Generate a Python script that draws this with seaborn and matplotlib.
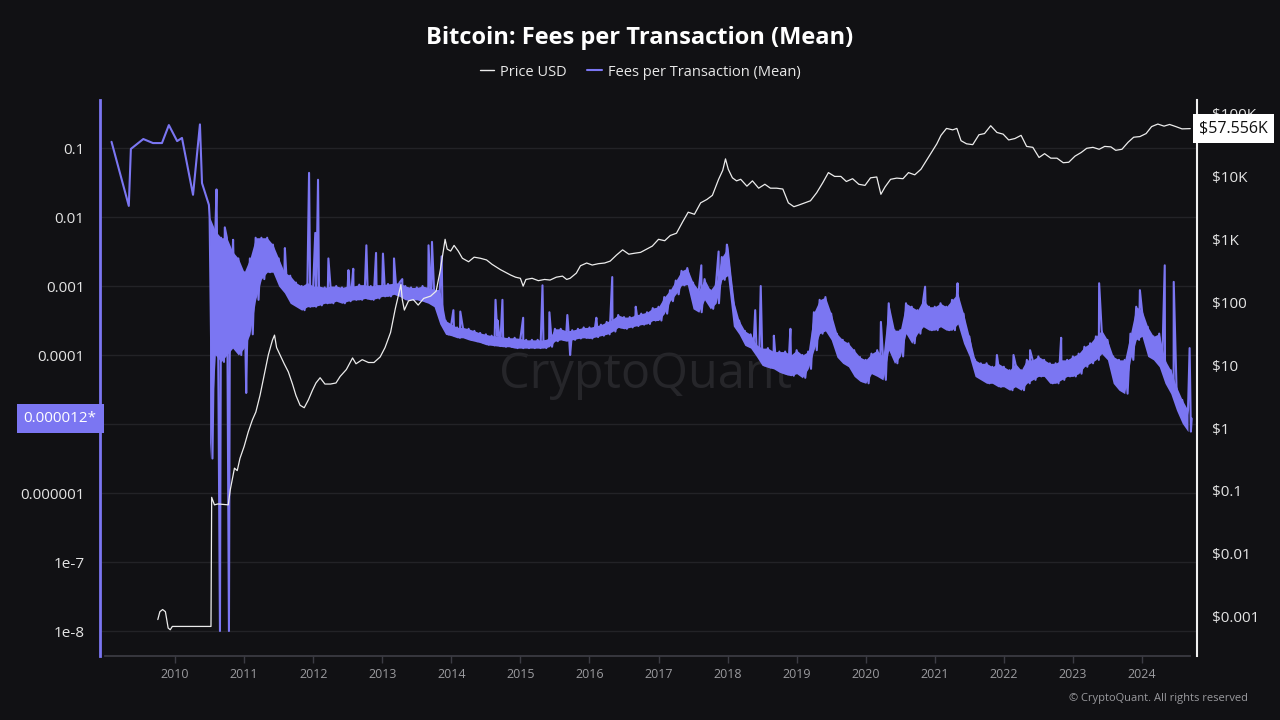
import numpy as np
import pandas as pd
import seaborn as sns
import matplotlib.pyplot as plt
import matplotlib.transforms as mtransforms
from matplotlib.lines import Line2D

BG = '#111114'
FEE_COLOR = '#7b76f2'
PRICE_COLOR = '#ececec'

# fees per transaction (BTC), sparse early points
fee_early_year = [2009.08, 2009.33, 2009.36, 2009.54, 2009.68, 2009.81, 2009.91,
                  2010.03, 2010.10, 2010.26, 2010.36, 2010.39, 2010.49]
fee_early = [0.123, 0.0145, 0.097, 0.135, 0.118, 0.118, 0.215,
             0.126, 0.14, 0.021, 0.22, 0.031, 0.015]

# monthly upper / lower edge of the fee band (log10 BTC), Jul 2010 .. Sep 2024
fee_hi_log = [
    -2.0, -2.2, -2.3, -2.3, -2.5, -2.6,                                        # 2010 H2
    -2.8, -2.6, -2.3, -2.3, -2.3, -2.4, -2.6, -2.8, -2.85, -2.95, -3.0, -2.95,  # 2011
    -3.0, -3.0, -3.02, -3.0, -3.0, -3.02, -3.0, -3.0, -2.98, -2.98, -3.0, -2.98,  # 2012
    -2.98, -2.97, -2.96, -2.95, -3.0, -3.02, -3.02, -3.0, -3.02, -3.05, -3.05, -3.5,  # 2013
    -3.55, -3.6, -3.6, -3.62, -3.65, -3.68, -3.7, -3.72, -3.72, -3.74, -3.75, -3.75,  # 2014
    -3.76, -3.78, -3.78, -3.78, -3.78, -3.76, -3.62, -3.62, -3.65, -3.64, -3.62, -3.6,  # 2015
    -3.6, -3.58, -3.56, -3.52, -3.48, -3.42, -3.45, -3.45, -3.42, -3.4, -3.38, -3.32,  # 2016
    -3.3, -3.16, -3.06, -2.92, -2.78, -2.74, -2.95, -3.06, -2.9, -3.06, -2.95, -2.58,  # 2017
    -2.45, -3.2, -3.5, -3.65, -3.7, -3.85, -3.9, -3.9, -3.95, -3.95, -3.95, -4.0,  # 2018
    -3.93, -4.0, -3.95, -3.38, -3.2, -3.16, -3.4, -3.69, -3.78, -3.83, -3.93, -4.03,  # 2019
    -4.07, -3.98, -3.93, -4.02, -3.25, -3.64, -3.64, -3.25, -3.3, -3.35, -3.2, -3.3,  # 2020
    -3.3, -3.25, -3.3, -3.2, -3.11, -3.4, -3.73, -4.07, -4.12, -4.12, -4.17, -4.12,  # 2021
    -4.17, -4.22, -4.12, -4.22, -4.07, -4.07, -4.02, -4.07, -4.12, -4.12, -4.07, -4.07,  # 2022
    -4.02, -3.98, -3.88, -3.83, -3.73, -3.64, -3.78, -4.02, -4.07, -4.07, -3.69, -3.3,  # 2023
    -3.35, -3.59, -3.73, -3.69, -4.07, -4.22, -4.46, -4.65, -4.8,              # 2024
]
fee_lo_log = [
    -5.5, -4.0, -4.1, -4.0, -3.9, -4.0,
    -3.9, -3.7, -3.2, -2.9, -2.8, -2.8, -3.0, -3.1, -3.25, -3.3, -3.35, -3.3,
    -3.3, -3.28, -3.25, -3.25, -3.22, -3.25, -3.22, -3.2, -3.2, -3.18, -3.2, -3.18,
    -3.15, -3.15, -3.12, -3.15, -3.2, -3.2, -3.2, -3.22, -3.25, -3.3, -3.55, -3.7,
    -3.72, -3.75, -3.75, -3.78, -3.8, -3.82, -3.85, -3.86, -3.87, -3.88, -3.88, -3.9,
    -3.9, -3.9, -3.9, -3.9, -3.9, -3.88, -3.8, -3.78, -3.8, -3.78, -3.76, -3.75,
    -3.76, -3.74, -3.72, -3.7, -3.66, -3.6, -3.62, -3.6, -3.58, -3.56, -3.55, -3.5,
    -3.5, -3.4, -3.22, -3.12, -2.99, -2.98, -3.33, -3.38, -3.2, -3.33, -3.25, -2.91,
    -2.85, -3.58, -3.7, -3.86, -3.9, -4.02, -4.15, -4.18, -4.2, -4.25, -4.28, -4.3,
    -4.27, -4.33, -4.2, -3.93, -3.69, -3.65, -3.78, -4.03, -4.12, -4.17, -4.31, -4.38,
    -4.41, -4.27, -4.31, -4.36, -3.93, -4.12, -4.02, -3.69, -3.83, -3.69, -3.59, -3.64,
    -3.64, -3.59, -3.64, -3.64, -3.55, -3.83, -4.02, -4.31, -4.36, -4.41, -4.41, -4.46,
    -4.46, -4.51, -4.46, -4.51, -4.41, -4.36, -4.31, -4.31, -4.41, -4.41, -4.36, -4.31,
    -4.31, -4.27, -4.17, -4.12, -4.07, -3.98, -4.07, -4.41, -4.51, -4.56, -4.07, -3.78,
    -3.73, -4.02, -4.07, -4.17, -4.41, -4.56, -4.8, -4.99, -5.11,
]
band_start = 2010.5

# single-day spikes (year, log10 BTC)
fee_spike_year = [2010.60, 2010.65, 2010.72, 2010.78, 2010.84, 2011.03,
                  2011.59, 2011.94, 2012.03, 2012.07, 2012.22, 2012.51, 2012.58,
                  2012.77, 2012.91, 2013.01, 2013.17, 2013.29, 2013.67, 2013.72,
                  2013.86, 2014.03, 2014.13, 2014.64, 2014.67, 2014.74, 2015.04,
                  2015.32, 2015.42, 2015.68, 2015.72, 2016.10, 2016.33, 2016.67,
                  2017.62, 2017.87, 2017.99, 2018.40, 2018.48, 2018.67, 2018.91,
                  2020.22, 2020.86, 2021.33, 2021.90, 2022.14, 2022.38, 2022.83,
                  2023.38, 2023.97, 2024.33, 2024.46, 2024.69]
fee_spike_log = [-1.6, -8.0, -2.15, -8.0, -2.33, -4.55,
                 -2.45, -1.36, -2.23, -1.46, -2.6, -2.77, -2.75,
                 -2.41, -2.52, -2.53, -2.6, -2.9, -2.41, -2.36,
                 -2.57, -3.35, -3.37, -3.2, -3.5, -3.2, -3.46,
                 -2.99, -3.38, -3.42, -4.0, -3.46, -2.87, -3.3,
                 -2.7, -2.5, -2.4, -3.35, -3.0, -3.72, -3.62,
                 -3.52, -3.01, -2.96, -4.0, -4.0, -3.93, -3.75,
                 -2.96, -3.06, -2.7, -2.94, -3.9]
fee_last_year = 2024.72
fee_last = 0.000012

# BTC price (USD)
price_year = [2009.75, 2009.78, 2009.82, 2009.86, 2009.90, 2009.93, 2009.96, 2010.52,
              2010.53, 2010.57, 2010.62, 2010.77, 2010.80, 2010.86, 2010.90, 2010.94,
              2011.00, 2011.06, 2011.12, 2011.17, 2011.23, 2011.29, 2011.35, 2011.41,
              2011.44, 2011.47, 2011.52, 2011.58, 2011.64, 2011.70, 2011.75, 2011.81,
              2011.87, 2011.93, 2011.99, 2012.04, 2012.10, 2012.17, 2012.25, 2012.33,
              2012.39, 2012.48, 2012.57, 2012.62, 2012.71, 2012.80, 2012.88, 2012.97,
              2013.04, 2013.12, 2013.19, 2013.27, 2013.29, 2013.32, 2013.38, 2013.45,
              2013.52, 2013.60, 2013.70, 2013.78, 2013.84, 2013.91, 2013.94, 2013.99,
              2014.04, 2014.10, 2014.16, 2014.25, 2014.33, 2014.42, 2014.51, 2014.59,
              2014.71, 2014.78, 2014.86, 2014.93, 2015.00, 2015.04, 2015.08, 2015.17,
              2015.26, 2015.35, 2015.43, 2015.52, 2015.61, 2015.67, 2015.72, 2015.81,
              2015.87, 2015.96, 2016.04, 2016.13, 2016.22, 2016.30, 2016.39, 2016.48,
              2016.57, 2016.65, 2016.74, 2016.83, 2016.91, 2017.00, 2017.09, 2017.17,
              2017.26, 2017.35, 2017.43, 2017.52, 2017.61, 2017.70, 2017.78, 2017.87,
              2017.93, 2017.97, 2018.01, 2018.07, 2018.13, 2018.19, 2018.28, 2018.36,
              2018.45, 2018.54, 2018.62, 2018.71, 2018.80, 2018.88, 2018.96, 2019.03,
              2019.12, 2019.20, 2019.29, 2019.38, 2019.46, 2019.55, 2019.64, 2019.72,
              2019.81, 2019.90, 2019.99, 2020.07, 2020.16, 2020.22, 2020.28, 2020.36,
              2020.45, 2020.54, 2020.62, 2020.71, 2020.80, 2020.88, 2020.96, 2021.03,
              2021.09, 2021.17, 2021.26, 2021.32, 2021.38, 2021.46, 2021.55, 2021.64,
              2021.72, 2021.81, 2021.90, 2021.99, 2022.07, 2022.16, 2022.25, 2022.33,
              2022.42, 2022.51, 2022.59, 2022.68, 2022.77, 2022.86, 2022.94, 2023.03,
              2023.12, 2023.20, 2023.29, 2023.38, 2023.46, 2023.55, 2023.62, 2023.71,
              2023.80, 2023.88, 2023.97, 2024.06, 2024.14, 2024.23, 2024.32, 2024.40,
              2024.49, 2024.58, 2024.70]
price_usd = [0.0009, 0.0012, 0.0013, 0.0012, 0.00066, 0.00062, 0.0007, 0.0007,
             0.079, 0.06, 0.062, 0.06, 0.105, 0.23, 0.21, 0.33,
             0.51, 0.87, 1.35, 1.8, 3.3, 6.9, 14.5, 25,
             30, 19, 14.5, 10.5, 7.8, 5.0, 3.3, 2.3,
             2.1, 2.8, 4.0, 5.2, 6.3, 5.0, 5.0, 5.2,
             6.6, 8.5, 13, 10.5, 12.2, 11, 11, 13.5,
             19, 33, 80, 190, 110, 75, 105, 110,
             90, 115, 125, 150, 320, 1000, 700, 650,
             800, 650, 500, 440, 520, 500, 470, 400,
             330, 300, 270, 250, 240, 180, 230, 240,
             220, 230, 225, 250, 260, 230, 240, 290,
             380, 420, 390, 410, 420, 450, 560, 680,
             580, 600, 620, 700, 780, 1000, 950, 1150,
             1250, 1900, 2700, 2500, 3800, 4300, 5000, 9000,
             12500, 19000, 13000, 9500, 8500, 9000, 7000, 8500,
             6500, 7500, 6500, 6500, 6300, 3800, 3300, 3500,
             3800, 4100, 5500, 8000, 11500, 10000, 10000, 8300,
             9200, 7500, 7200, 9500, 9800, 5200, 6800, 9000,
             9400, 9200, 11500, 10600, 13000, 18000, 25000, 33000,
             45000, 58000, 55000, 58000, 37000, 33000, 32000, 46000,
             48000, 64000, 50000, 47000, 38000, 40000, 45000, 30000,
             29000, 20000, 23000, 19500, 19500, 16500, 16800, 21000,
             24000, 28000, 29000, 27000, 30000, 29500, 26000, 27000,
             35000, 42000, 43000, 48000, 62000, 68000, 63000, 67000,
             62000, 57000, 57556]

left_ticks = [1e-8, 1e-7, 1e-6, 1e-5, 1e-4, 1e-3, 1e-2, 1e-1]
left_labels = ['1e-8', '1e-7', '0.000001', '', '0.0001', '0.001', '0.01', '0.1']
right_ticks = [1e-3, 1e-2, 1e-1, 1, 10, 100, 1e3, 1e4, 1e5]
right_labels = ['$0.001', '$0.01', '$0.1', '$1', '$10', '$100', '$1K', '$10K', '$100K']
year_ticks = list(range(2010, 2025))

# fee series: early points, then monthly band (upper edge, lower edge half a month later), spikes
band_mid = [band_start + i / 12 for i in range(len(fee_hi_log))]
band_year = []
band_val = []
for t, h, l in zip(band_mid, fee_hi_log, fee_lo_log):
    band_year += [t, t + 1 / 24]
    band_val += [10 ** h, 10 ** l]
fee_df = pd.DataFrame({
    'year': fee_early_year + band_year + fee_spike_year + [fee_last_year],
    'fee': fee_early + band_val + [10 ** v for v in fee_spike_log] + [fee_last],
}).sort_values('year')
price_df = pd.DataFrame({'year': price_year, 'price': price_usd})

sns.set_theme(style='dark')
plt.rcParams['font.family'] = ['Open Sans', 'DejaVu Sans']

fig = plt.figure(figsize=(12.8, 7.2), dpi=100, facecolor=BG)
ax = fig.add_axes([100 / 1280, 1 - 656 / 720, 1097 / 1280, 556 / 720])
ax.set_facecolor(BG)

# dense daily band drawn as the filled envelope under the line
ax.fill_between(band_mid, [10 ** h for h in fee_hi_log], [10 ** l for l in fee_lo_log],
                color=FEE_COLOR, linewidth=0, zorder=2)
sns.lineplot(data=fee_df, x='year', y='fee', ax=ax, color=FEE_COLOR, linewidth=1.5,
             sort=False, estimator=None, zorder=3)
ax.set_yscale('log')
ax.set_ylim(10 ** -8.362, 10 ** -0.304)
ax.set_xlim(2008.913, 2024.797)
ax.set_yticks(left_ticks)
ax.set_yticklabels(left_labels)
ax.yaxis.set_minor_locator(plt.NullLocator())
ax.set_xticks(year_ticks)
ax.set_xticklabels([str(y) for y in year_ticks])
ax.grid(axis='y', color='#232327', linewidth=1)
ax.grid(axis='x', visible=False)
ax.set_xlabel('')
ax.set_ylabel('')
ax.tick_params(axis='y', length=0, pad=11, labelsize=11, labelcolor='#e4e4e4')
ax.tick_params(axis='x', bottom=True, length=5, width=1, color='#3c3c44', pad=4,
               labelsize=9, labelcolor='#9a9a9e')
for s in ['top', 'right']:
    ax.spines[s].set_visible(False)
ax.spines['left'].set_color(FEE_COLOR)
ax.spines['left'].set_linewidth(2)
ax.spines['bottom'].set_color('#3c3c44')
ax.spines['bottom'].set_bounds(2008.99, 2024.7)

ax.text(0.497, 0.505, 'CryptoQuant', transform=ax.transAxes, ha='center', va='center',
        fontsize=35, color='#26262a', zorder=0)

ax2 = ax.twinx()
sns.lineplot(data=price_df, x='year', y='price', ax=ax2, color=PRICE_COLOR, linewidth=0.9,
             sort=False, estimator=None)
ax2.set_yscale('log')
ax2.set_ylim(10 ** -3.625, 10 ** 5.215)
ax2.set_yticks(right_ticks)
ax2.set_yticklabels(right_labels)
ax2.yaxis.set_minor_locator(plt.NullLocator())
ax2.set_ylabel('')
ax2.grid(False)
ax2.tick_params(axis='y', length=0, pad=11, labelsize=11, labelcolor='#e4e4e4')
for s in ['top', 'left', 'bottom']:
    ax2.spines[s].set_visible(False)
ax2.spines['right'].set_color('#f0f0f0')
ax2.spines['right'].set_linewidth(1.5)

# last value tags
lt = mtransforms.blended_transform_factory(ax.transAxes, ax.transData)
ax.text(-0.003, fee_last, '0.000012*', transform=lt, ha='right', va='center', fontsize=11,
        color='white', zorder=10, clip_on=False,
        bbox=dict(boxstyle='square,pad=0.45', fc=FEE_COLOR, ec='none'))
rt = mtransforms.blended_transform_factory(ax2.transAxes, ax2.transData)
ax2.text(1.002, price_usd[-1], '$57.556K', transform=rt, ha='left', va='center', fontsize=11.5,
         color='#111111', zorder=10, clip_on=False,
         bbox=dict(boxstyle='square,pad=0.4', fc='white', ec='none'))

fig.text(0.5, 0.947, 'Bitcoin: Fees per Transaction (Mean)', ha='center', va='center',
         fontsize=17, fontweight='bold', color='white')
handles = [Line2D([], [], color=PRICE_COLOR, linewidth=1),
           Line2D([], [], color=FEE_COLOR, linewidth=1.5)]
fig.legend(handles, ['Price USD', 'Fees per Transaction (Mean)'], loc='center',
           bbox_to_anchor=(0.5, 0.9), ncol=2, frameon=False, fontsize=10.5, labelcolor='#e8e8e8',
           handlelength=1.0, handletextpad=0.4, columnspacing=1.4)
fig.text(0.975, 0.03, '© CryptoQuant. All rights reserved', ha='right', va='center',
         fontsize=8, color='#9a9a9e')

plt.savefig('out.png', dpi=100, facecolor=BG)
